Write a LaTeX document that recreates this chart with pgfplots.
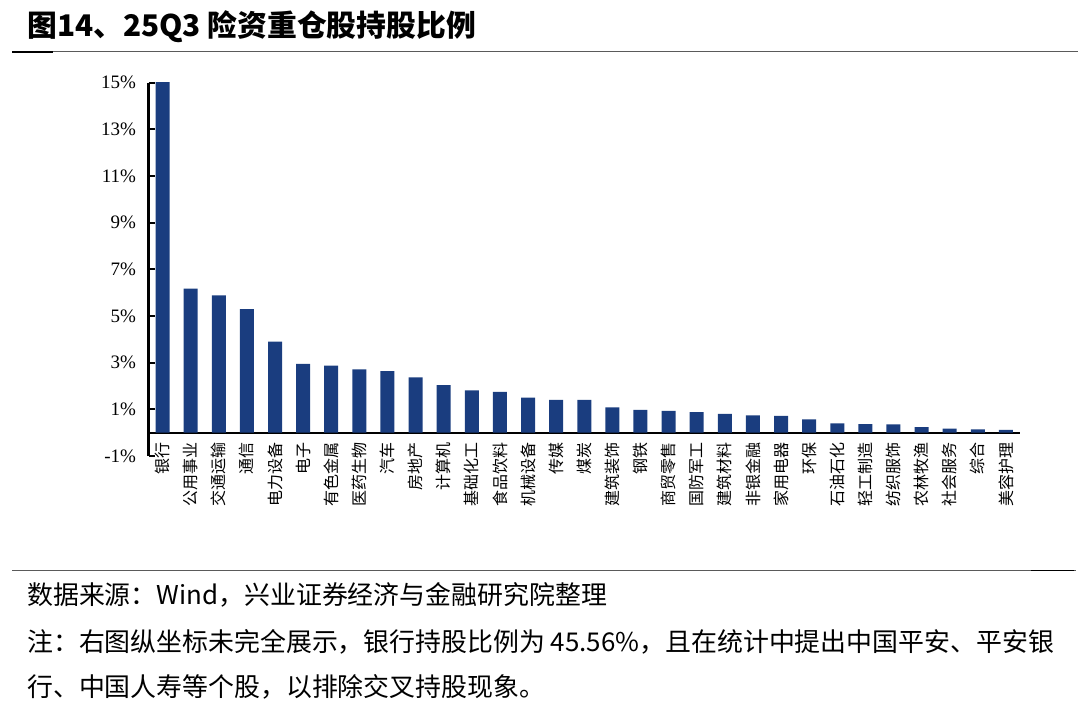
\documentclass[border=0pt]{standalone}
\usepackage{pgfplots}
\pgfplotsset{compat=1.18}
\usepackage{fontspec}
\setmainfont{Liberation Serif}
\newfontfamily\cjk{Noto Sans CJK SC}
\definecolor{barblue}{RGB}{26,61,127}
\definecolor{rulegray}{RGB}{90,90,90}
\pgfplotstableread{
idx val
0 45.56
1 6.17
2 5.88
3 5.30
4 3.90
5 2.95
6 2.87
7 2.71
8 2.64
9 2.37
10 2.04
11 1.81
12 1.75
13 1.50
14 1.40
15 1.40
16 1.08
17 0.98
18 0.93
19 0.88
20 0.80
21 0.74
22 0.72
23 0.57
24 0.40
25 0.37
26 0.35
27 0.24
28 0.17
29 0.14
30 0.12
}\datatable
\begin{document}
\begin{tikzpicture}[x=1pt,y=1pt]
\path[use as bounding box] (0,0) rectangle (1080,706);
% title
\node[anchor=west, inner sep=0pt, font=\cjk\bfseries\fontsize{29.8}{33}\selectfont] at (27,679.5) {图14、25Q3 险资重仓股持股比例};
\draw[line width=1.5pt, rulegray] (12,654.3) -- (1078,654.3);
\draw[line width=1.8pt, black] (12,654.3) -- (53,654.3);
\begin{axis}[
  at={(148.5pt,250pt)}, anchor=south west,
  scale only axis, width=871.5pt, height=373.3pt,
  xmin=-0.5, xmax=30.5, ymin=-1, ymax=15,
  axis y line=left, axis x line=middle,
  axis line style={-, line width=2.2pt, black},
  ytick={-1,1,3,5,7,9,11,13,15},
  yticklabel={\pgfmathprintnumber{\tick}\%},
  yticklabel style={font=\fontsize{19}{22}\selectfont, anchor=east, xshift=-9pt},
  /pgf/number format/assume math mode=true,
  tick align=inside,
  major tick length=6pt,
  tick style={line width=1.8pt, black},
  xtick={0,...,30},
  xticklabels={银行,公用事业,交通运输,通信,电力设备,电子,有色金属,医药生物,汽车,房地产,计算机,基础化工,食品饮料,机械设备,传媒,煤炭,建筑装饰,钢铁,商贸零售,国防军工,建筑材料,非银金融,家用电器,环保,石油石化,轻工制造,纺织服饰,农林牧渔,社会服务,综合,美容护理},
  xticklabel style={font=\cjk\fontsize{16}{18}\selectfont, rotate=90, anchor=east, inner sep=0pt, xshift=-0.5pt},
  x tick style={draw=none},
  xticklabel shift=9pt,
  clip=true,
]
\addplot[ybar, bar width=14pt, fill=barblue, draw=none] table[x=idx, y=val] {\datatable};
\end{axis}
% footer
\draw[line width=1.5pt, rulegray] (12,135.5) -- (1076,135.5);
\draw[line width=1.8pt, black] (1031,135.5) -- (1074,135.5);
\node[anchor=west, inner sep=0pt, font=\cjk\fontsize{25.9}{29}\selectfont] at (27,111) {数据来源：Wind，兴业证券经济与金融研究院整理};
\node[anchor=west, inner sep=0pt, font=\cjk\fontsize{25.9}{29}\selectfont] at (27,64.3) {注：右图纵坐标未完全展示，银行持股比例为 45.56\%，且在统计中提出中国平安、平安银};
\node[anchor=west, inner sep=0pt, font=\cjk\fontsize{25.9}{29}\selectfont] at (27,19.3) {行、中国人寿等个股，以排除交叉持股现象。};
\end{tikzpicture}
\end{document}
